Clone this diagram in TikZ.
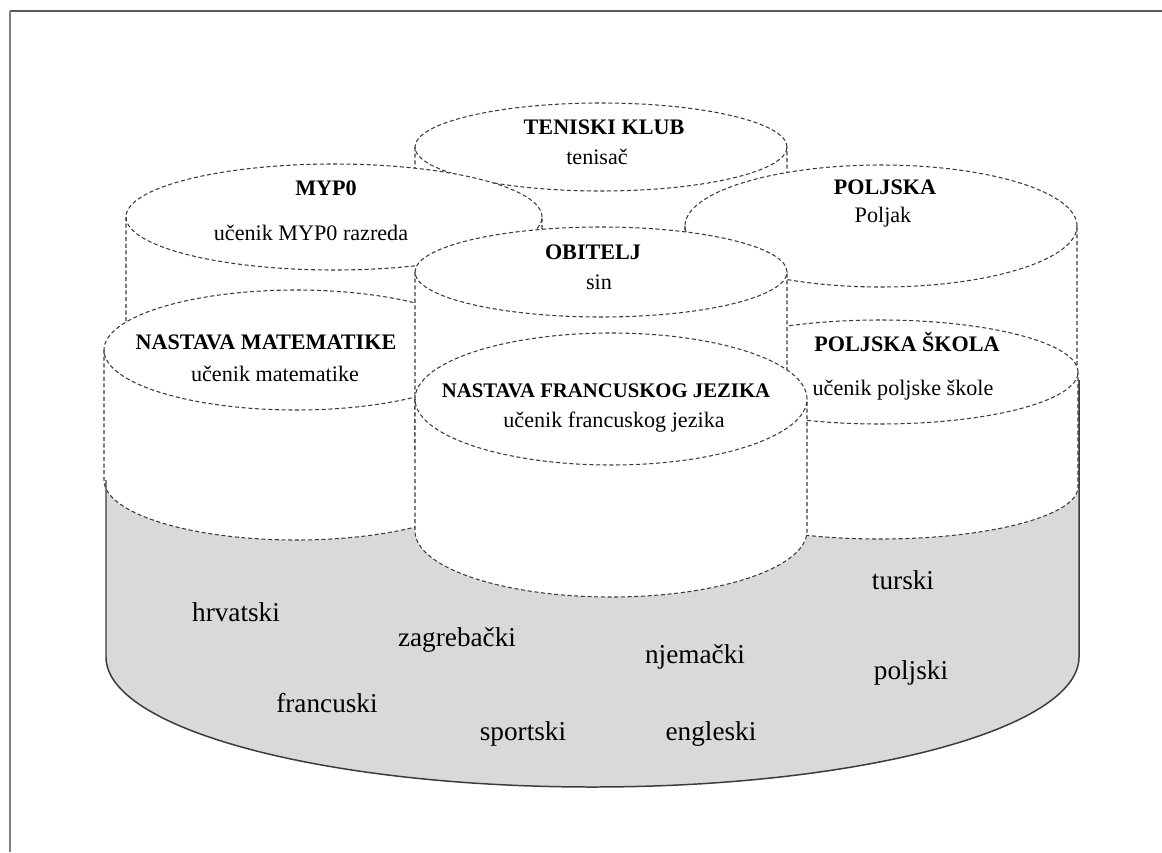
\documentclass[tikz,border=0pt]{standalone}
\usepackage{fontspec}
\setmainfont{Liberation Serif}
\definecolor{basefill}{HTML}{D9D9D9}
\definecolor{baseedge}{HTML}{3C3C3C}
\definecolor{rimedge}{HTML}{3A3A3A}
\tikzset{
  rim/.style={draw=rimedge, line width=0.6pt, dash pattern=on 2.3pt off 1.5pt},
  baserim/.style={draw=baseedge, line width=0.85pt},
  ttl/.style={font=\fontsize{12.6}{15}\selectfont\bfseries, inner sep=0pt},
  sub/.style={font=\fontsize{12.6}{15}\selectfont, inner sep=0pt},
  word/.style={font=\fontsize{15.5}{18}\selectfont, inner sep=0pt}
}
% #1 centre x, #2 top rim y, #3 bottom rim y, #4 x radius, #5 y radius (all in px units)
\newcommand\drum[5]{%
  \fill[white] (#1-#4,#2) -- (#1-#4,#3)
    arc[start angle=180,end angle=360,x radius=#4*0.02cm,y radius=#5*0.02cm]
    -- (#1+#4,#2) -- cycle;
  \fill[white] (#1,#2) ellipse[x radius=#4*0.02cm,y radius=#5*0.02cm];
  \draw[rim] (#1-#4,#2) -- (#1-#4,#3)
    arc[start angle=180,end angle=360,x radius=#4*0.02cm,y radius=#5*0.02cm]
    -- (#1+#4,#2);
  \draw[rim] (#1,#2) ellipse[x radius=#4*0.02cm,y radius=#5*0.02cm];
}
\begin{document}
\begin{tikzpicture}[x=0.02cm,y=-0.02cm]
\useasboundingbox (0,0) rectangle (1162,852);

% shared base
\fill[basefill] (106,380) -- (106,657)
  arc[start angle=180,end angle=360,x radius=486.5*0.02cm,y radius=130*0.02cm]
  -- (1079,380) -- cycle;

% groups, back to front
\drum{601}{147}{260}{186}{44}   % teniski klub
\drum{334}{217}{330}{208}{53}   % MYP0
\drum{881}{226}{380}{196}{61}   % Poljska
\drum{296}{350}{480}{192}{60}   % nastava matematike
\drum{880}{372}{487}{198}{52}   % poljska skola
\drum{601}{272}{450}{186}{45}   % obitelj
\drum{611}{399}{531}{196}{66}   % nastava francuskog jezika

% outline of the base
\draw[baserim] (106,480) -- (106,657)
  arc[start angle=180,end angle=360,x radius=486.5*0.02cm,y radius=130*0.02cm]
  -- (1079,380);

% labels
\node[ttl] (tk)  at (604,127) {TENISKI KLUB};
\node[sub] (tks) at (597,157) {tenisač};
\node[ttl] (my)  at (326,188) {MYP0};
\node[sub] (mys) at (311,233) {učenik MYP0 razreda};
\node[ttl] (pl)  at (885,187) {POLJSKA};
\node[sub] (pls) at (883,217) {Poljak};
\node[ttl] (ob)  at (593,252) {OBITELJ};
\node[sub] (obs) at (599,282) {sin};
\node[ttl] (nm)  at (266,342) {NASTAVA MATEMATIKE};
\node[sub] (nms) at (275,374) {učenik matematike};
\node[ttl] (ps)  at (907,342) {POLJSKA ŠKOLA};
\node[sub] (pss) at (903,390) {učenik poljske škole};
\node[ttl, font=\fontsize{11.8}{14}\selectfont\bfseries] (nf) at (606,391) {NASTAVA FRANCUSKOG JEZIKA};
\node[sub] (nfs) at (614,422) {učenik francuskog jezika};

\node[word] (w1) at (236,612) {hrvatski};
\node[word] (w2) at (457,640) {zagrebački};
\node[word] (w3) at (695,657) {njemački};
\node[word] (w4) at (903,580) {turski};
\node[word] (w5) at (911,673) {poljski};
\node[word] (w6) at (327,703) {francuski};
\node[word] (w7) at (523,734) {sportski};
\node[word] (w8) at (711,734) {engleski};

% page frame
\draw[draw=black!65, line width=0.6pt] (10,11) -- (1162,11);
\draw[draw=black!50, line width=1.1pt] (10,11) -- (10,852);
\end{tikzpicture}
\end{document}
